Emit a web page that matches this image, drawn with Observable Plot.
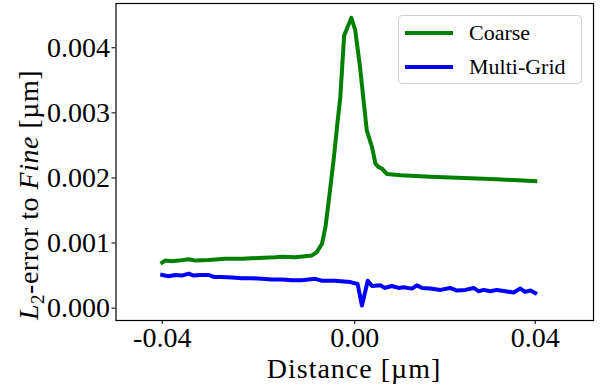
<!DOCTYPE html>
<html>
<head>
<meta charset="utf-8">
<script src="https://cdn.jsdelivr.net/npm/d3@7"></script>
<script src="https://cdn.jsdelivr.net/npm/@observablehq/plot@0.6"></script>
<style>
  html, body { margin: 0; padding: 0; background: #fff; }
  #wrap { position: relative; width: 607px; height: 388px; }
  #legend {
    position: absolute; left: 398px; top: 15px; width: 184px; height: 69px;
    border: 1px solid #d0d0d0; border-radius: 4px; background: rgba(255,255,255,0.85);
    box-sizing: border-box; font-family: "Liberation Serif", serif; font-size: 22px; color: #000;
  }
  .row { position: absolute; left: 6px; height: 24px; display: flex; align-items: center; }
  .swatch { width: 48px; height: 4px; margin-right: 16px; }
</style>
</head>
<body>
<div id="wrap"></div>
<script>
// ---- data (x: distance in µm, y: L2-error in µm) ----
const coarseX = [-0.0400,-0.0394,-0.0380,-0.0366,-0.0345,-0.0331,-0.0304,-0.0269,-0.0234,-0.0200,-0.0165,-0.0151,-0.0124,-0.0113,-0.0089,-0.0079,-0.0068,-0.0061,-0.0054,-0.0044,-0.0036,-0.0030,-0.0022,-0.0007,0.0001,0.0011,0.0025,0.0036,0.0043,0.0049,0.0057,0.0067,0.0095,0.0157,0.0226,0.0295,0.0375];
const coarseY = [0.00070,0.00073,0.00072,0.00073,0.00075,0.00073,0.00074,0.00076,0.00076,0.00077,0.00078,0.00079,0.00078,0.00079,0.00081,0.00086,0.00099,0.00124,0.00165,0.00227,0.00284,0.00324,0.00419,0.00446,0.00427,0.00370,0.00273,0.00247,0.00222,0.00217,0.00214,0.00206,0.00204,0.00202,0.00200,0.00198,0.00195];

const multiX = [-0.0400,-0.0387,-0.0373,-0.0359,-0.0345,-0.0335,-0.0321,-0.0304,-0.0293,-0.0276,-0.0255,-0.0234,-0.0214,-0.0193,-0.0172,-0.0151,-0.0130,-0.0110,-0.0082,-0.0068,-0.0041,-0.0009,0.0006,0.0015,0.0027,0.0036,0.0053,0.0063,0.0077,0.0091,0.0101,0.0119,0.0129,0.0140,0.0157,0.0178,0.0198,0.0212,0.0230,0.0247,0.0257,0.0268,0.0282,0.0295,0.0313,0.0330,0.0344,0.0354,0.0365,0.0375];
const multiY = [0.00051,0.00049,0.00051,0.00050,0.00053,0.00050,0.00051,0.00051,0.00048,0.00048,0.00047,0.00046,0.00046,0.00045,0.00044,0.00044,0.00043,0.00043,0.00045,0.00042,0.00042,0.00040,0.00037,0.00004,0.00042,0.00034,0.00035,0.00031,0.00034,0.00031,0.00032,0.00030,0.00035,0.00031,0.00030,0.00028,0.00031,0.00027,0.00028,0.00031,0.00026,0.00028,0.00026,0.00028,0.00026,0.00024,0.00030,0.00025,0.00027,0.00023];

const seriesNames = ["Coarse", "Multi-Grid"];
const seriesColors = ["#008000", "#0000ff"];

const xTicks = [-0.04, 0, 0.0375];
const xTickLabels = ["-0.04", "0.00", "0.04"];
const yTicks = [0, 0.001, 0.002, 0.003, 0.004];
const yTickLabels = ["0.000", "0.001", "0.002", "0.003", "0.004"];

const xLabel = "Distance [µm]";

// ---- build table ----
const rows = [];
coarseX.forEach((x, i) => rows.push({series: seriesNames[0], x, y: coarseY[i]}));
multiX.forEach((x, i) => rows.push({series: seriesNames[1], x, y: multiY[i]}));

const chart = Plot.plot({
  width: 607,
  height: 388,
  marginLeft: 115.5,
  marginRight: 14,
  marginTop: 3,
  marginBottom: 68,
  style: {fontFamily: "'Liberation Serif', serif", fontSize: "28px", color: "#000", background: "#fff"},
  x: {domain: [-0.0496, 0.0496]},
  y: {domain: [-0.00019, 0.00468]},
  color: {domain: seriesNames, range: seriesColors},
  marks: [
    Plot.axisX(xTicks, {tickFormat: d => xTickLabels[xTicks.indexOf(d)], tickSize: 4, tickPadding: 3, label: null, stroke: "#000", fill: "#000"}),
    Plot.axisY(yTicks, {tickFormat: d => yTickLabels[yTicks.indexOf(d)], tickSize: 4, tickPadding: 2, label: null, stroke: "#000", fill: "#000"}),
    Plot.line(rows, {x: "x", y: "y", z: "series", stroke: "series", strokeWidth: 4, strokeLinejoin: "round", strokeLinecap: "square"}),
    Plot.frame({stroke: "#000", strokeWidth: 1.2})
  ]
});

document.getElementById("wrap").appendChild(chart);

// ---- axis labels ----
const svg = d3.select(chart);
svg.append("text")
  .attr("x", 354).attr("y", 378)
  .attr("text-anchor", "middle")
  .attr("font-family", "'Liberation Serif', serif")
  .attr("font-size", 28)
  .attr("letter-spacing", "1px")
  .attr("fill", "#000")
  .text(xLabel);

const yl = svg.append("text")
  .attr("transform", "translate(38,195) rotate(-90)")
  .attr("text-anchor", "middle")
  .attr("font-family", "'Liberation Serif', serif")
  .attr("font-size", 28)
  .attr("letter-spacing", "0.5px")
  .attr("fill", "#000");
yl.append("tspan").attr("font-style", "italic").text("L");
yl.append("tspan").attr("font-size", 19).attr("dy", 6).text("2");
yl.append("tspan").attr("dy", -6).text("-error to ");
yl.append("tspan").attr("font-style", "italic").text("Fine");
yl.append("tspan").text(" [µm]");

// ---- legend ----
const legend = document.createElement("div");
legend.id = "legend";
seriesNames.forEach((name, i) => {
  const row = document.createElement("div");
  row.className = "row";
  row.style.top = (i === 0 ? 5 : 39) + "px";
  const sw = document.createElement("div");
  sw.className = "swatch";
  sw.style.background = seriesColors[i];
  const t = document.createElement("span");
  t.textContent = name;
  row.appendChild(sw);
  row.appendChild(t);
  legend.appendChild(row);
});
document.getElementById("wrap").appendChild(legend);
</script>
</body>
</html>
